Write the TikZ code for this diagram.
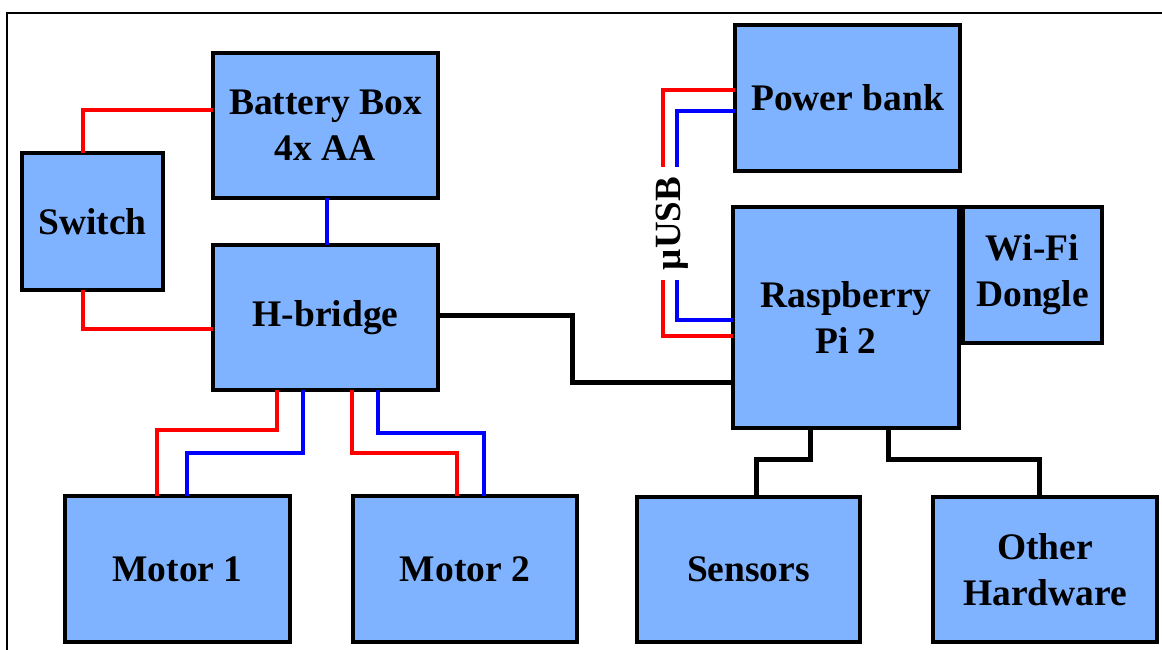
\documentclass[tikz,border=0pt]{standalone}
\usepackage{fontspec}
\setmainfont{Liberation Serif}
\definecolor{boxblue}{RGB}{128,179,255}
\tikzset{
  blk/.style={draw=black, fill=boxblue, line width=3.8pt, inner sep=0pt, outer sep=0pt,
    align=center, font=\bfseries\fontsize{37.5}{46}\selectfont},
  rw/.style={draw=red, line width=4.3pt},
  bw/.style={draw=blue, line width=4.3pt},
  kw/.style={draw=black, line width=5pt},
}
\begin{document}
\begin{tikzpicture}[x=1pt, y=-1pt]
\useasboundingbox (0,0) rectangle (1162,650);
\draw[line width=2pt] (7,650) -- (7,13) -- (1162,13);

% boxes
\node[blk, minimum width=225pt, minimum height=145pt] (bat) at (325.5,125.5) {Battery Box\\4x AA};
\node[blk, minimum width=141pt, minimum height=137pt] (sw) at (92.5,221.5) {Switch};
\node[blk, minimum width=225pt, minimum height=145pt] (hb) at (325.5,317.5) {H-bridge};
\node[blk, minimum width=225pt, minimum height=146pt] (pb) at (847.5,98) {Power bank};
\node[blk, minimum width=226pt, minimum height=221pt] (pi) at (846,317.5) {Raspberry\\Pi 2};
\node[blk, minimum width=139pt, minimum height=136pt] (wifi) at (1032.5,275) {Wi-Fi\\Dongle};
\node[blk, minimum width=225pt, minimum height=146pt] (m1) at (177.5,569) {Motor 1};
\node[blk, minimum width=224pt, minimum height=146pt] (m2) at (465,569) {Motor 2};
\node[blk, minimum width=223pt, minimum height=145pt] (sens) at (748.5,569.5) {Sensors};
\node[blk, minimum width=224pt, minimum height=145pt] (oth) at (1045,569.5) {Other\\Hardware};

% battery / switch / h-bridge
\draw[rw] ([yshift=15.5pt]bat.west) -| ([xshift=-9.5pt]sw.north);
\draw[rw] ([xshift=-9.5pt]sw.south) |- ([yshift=-11.5pt]hb.west);
\draw[bw] ([xshift=1.5pt]bat.south) -- ([xshift=1.5pt]hb.north);

% h-bridge to motors
\draw[rw] ([xshift=-48.5pt]hb.south) -- ++(0,40) -| ([xshift=-20.5pt]m1.north);
\draw[bw] ([xshift=-22.5pt]hb.south) -- ++(0,63) -| ([xshift=9.5pt]m1.north);
\draw[rw] ([xshift=26.5pt]hb.south) -- ++(0,63) -| ([xshift=-8pt]m2.north);
\draw[bw] ([xshift=52.5pt]hb.south) -- ++(0,43) -| ([xshift=19pt]m2.north);

% h-bridge to pi
\draw[kw] ([yshift=2.5pt]hb.east) -- ++(134,0) |- ([yshift=-64.5pt]pi.west);

% pi to peripherals
\draw[kw] ([xshift=-36pt]pi.south) -- ++(0,31) -| ([xshift=7.5pt]sens.north);
\draw[kw] ([xshift=42pt]pi.south) -- ++(0,31) -| ([xshift=-6pt]oth.north);

% power bank to pi (uUSB)
\coordinate (ur1) at (663,167);
\coordinate (ub1) at (677,167);
\coordinate (ur2) at (663,280);
\coordinate (ub2) at (677,280);
\draw[rw] ([yshift=8pt]pb.west) -| (ur1);
\draw[bw] ([yshift=-13pt]pb.west) -| (ub1);
\draw[rw] (ur2) |- ([yshift=-18.5pt]pi.west);
\draw[bw] (ub2) |- ([yshift=-2.5pt]pi.west);
\node[rotate=90, inner sep=0pt, font=\bfseries\fontsize{37}{46}\selectfont] (usb) at (672,223.5) {µUSB};
\end{tikzpicture}
\end{document}
